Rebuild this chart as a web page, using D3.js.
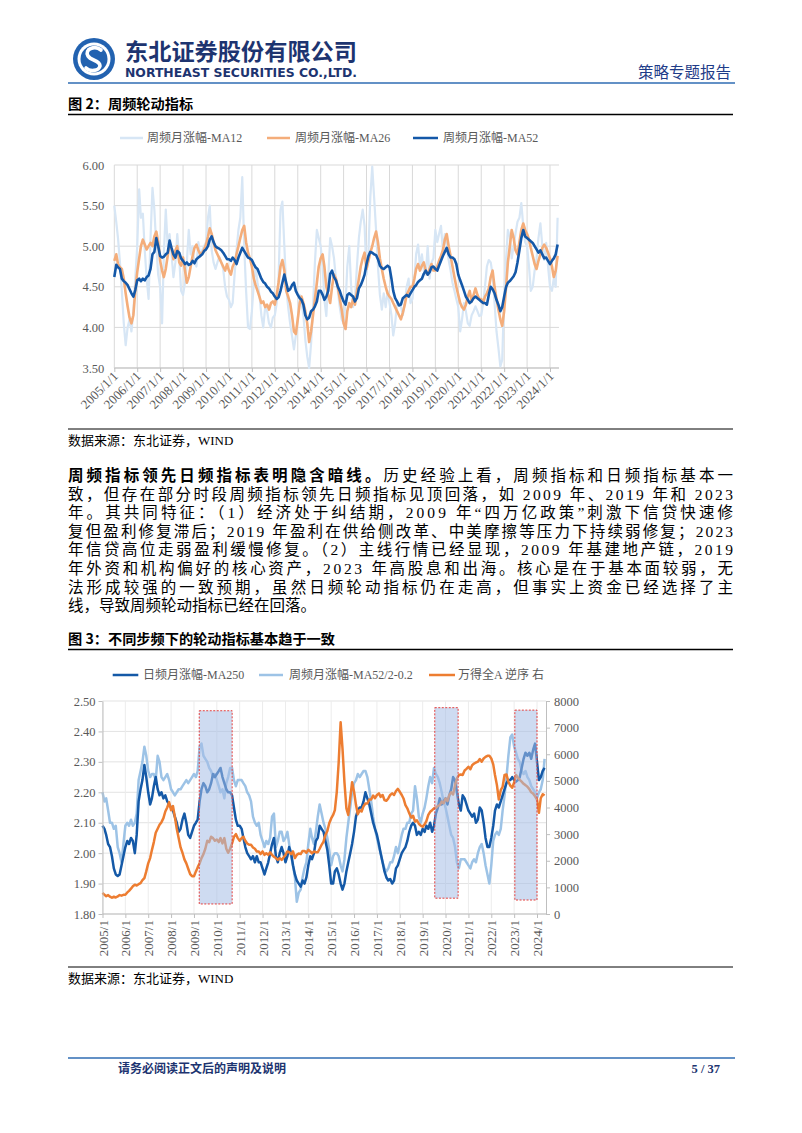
<!DOCTYPE html>
<html><head><meta charset="utf-8">
<script src="https://cdn.jsdelivr.net/npm/d3@7"></script>
<style>
body{margin:0;background:#fff;}
svg text{font-family:"Liberation Serif","Noto Sans CJK SC",serif;}
</style></head><body>
<svg id="page" width="802" height="1133" xmlns="http://www.w3.org/2000/svg"></svg>
<script>
// ---------------- DATA (monthly readings, Jan 2005 .. May 2024) ----------------
const tickYears = [2005,2006,2007,2008,2009,2010,2011,2012,2013,2014,2015,2016,2017,2018,2019,2020,2021,2022,2023,2024];
const y1Ticks = [3.5,4.0,4.5,5.0,5.5,6.0];
const yLTicks = [1.8,1.9,2.0,2.1,2.2,2.3,2.4,2.5];
const yRTicks = [0,1000,2000,3000,4000,5000,6000,7000,8000];

const ma12 = [
5.5,5.3,5.1,4.8,4.45,4.05,3.78,4.0,4.1,3.95,4.2,4.6,
5.0,5.7,5.35,5.4,4.95,4.6,4.35,5.1,5.72,5.45,5.0,4.65,
4.5,4.05,4.9,5.45,5.0,5.15,4.9,4.62,4.8,5.15,4.85,4.45,
4.4,4.55,4.8,5.2,4.9,5.0,4.8,4.75,5.05,4.87,4.95,5.0,
5.05,5.35,5.5,4.95,4.8,4.72,4.8,4.87,4.8,4.72,4.5,4.38,
4.34,4.25,4.3,4.65,4.95,5.2,5.35,5.85,5.0,4.45,4.0,3.98,
4.2,4.55,4.75,4.55,4.4,4.15,4.0,4.25,4.2,4.05,4.0,4.12,
4.15,4.3,4.6,5.45,5.55,5.0,4.5,4.25,4.05,3.9,3.73,3.9,
4.1,4.4,4.3,4.15,3.85,3.64,3.5,3.8,4.25,4.8,5.2,5.1,
5.0,4.75,4.34,4.14,4.6,5.1,5.0,4.85,4.6,4.45,4.25,4.1,
4.05,4.3,4.75,5.0,4.5,4.25,4.35,4.75,5.1,5.3,5.45,5.25,
4.65,4.95,5.6,5.98,5.6,5.2,4.75,4.4,4.22,4.42,4.25,4.45,
4.3,4.15,3.9,4.05,4.3,4.3,4.26,4.15,4.3,4.5,4.6,4.3,
4.35,4.6,4.9,5.02,4.75,4.9,4.7,4.65,5.0,4.6,4.8,4.85,
5.2,5.05,5.15,5.25,4.95,5.15,5.0,4.83,4.7,4.55,4.45,4.35,
4.25,3.95,4.1,4.3,4.2,4.05,4.02,4.15,4.2,4.26,4.2,4.14,
4.15,4.3,4.5,4.75,4.83,4.8,4.65,4.3,3.95,3.75,3.52,3.6,
4.4,4.85,5.2,5.12,4.85,5.0,5.16,5.3,5.35,5.53,5.25,5.05,
5.0,4.75,4.45,4.5,4.7,4.85,5.1,5.28,5.0,4.83,5.04,4.75,
4.5,4.45,4.6,4.5,5.35];

const ma26 = [
4.82,4.9,4.78,4.74,4.72,4.6,4.42,4.26,4.12,4.05,4.15,4.45,
4.68,4.85,5.0,5.08,5.02,4.96,5.0,5.04,5.0,5.12,5.18,5.05,
4.82,4.7,4.62,4.72,4.88,5.02,4.98,4.84,4.95,5.0,4.8,4.76,
4.86,4.7,4.55,4.62,4.75,4.88,4.98,5.02,4.95,4.9,4.92,4.96,
5.02,5.12,5.22,5.15,5.05,4.95,4.9,4.85,4.8,4.75,4.7,4.78,
4.7,4.65,4.75,4.8,4.9,5.0,5.1,5.2,5.25,5.05,4.92,4.85,
4.75,4.6,4.52,4.45,4.38,4.3,4.32,4.25,4.28,4.22,4.3,4.32,
4.28,4.4,4.55,4.75,4.83,4.7,4.45,4.38,4.3,4.15,3.95,3.92,
4.1,4.3,4.38,4.3,4.2,4.05,3.82,3.95,4.15,4.35,4.55,4.75,
4.85,4.9,4.75,4.5,4.4,4.3,4.5,4.65,4.6,4.5,4.35,4.22,
4.05,3.98,4.2,4.3,4.25,4.35,4.28,4.45,4.6,4.75,4.85,4.92,
4.72,4.82,4.92,5.0,5.1,5.18,5.05,4.85,4.72,4.6,4.5,4.42,
4.38,4.35,4.3,4.25,4.2,4.15,4.1,4.18,4.28,4.4,4.45,4.5,
4.5,4.6,4.72,4.78,4.7,4.76,4.8,4.7,4.65,4.72,4.78,4.7,
4.7,4.75,4.82,4.88,4.95,5.08,5.15,5.0,4.88,4.75,4.62,4.5,
4.4,4.3,4.25,4.22,4.28,4.38,4.45,4.32,4.4,4.48,4.4,4.35,
4.35,4.3,4.38,4.42,4.48,4.62,4.7,4.5,4.35,4.22,4.1,4.02,
4.2,4.5,4.8,5.0,5.2,5.1,4.95,4.9,5.05,5.2,5.28,5.2,
5.15,5.08,4.98,4.88,4.78,4.72,4.82,4.9,4.98,5.02,4.98,4.92,
4.85,4.75,4.62,4.7,4.88];

const ma52 = [
4.62,4.77,4.74,4.72,4.6,4.57,4.55,4.52,4.47,4.42,4.38,4.46,
4.58,4.6,4.57,4.6,4.58,4.62,4.64,4.72,4.9,4.93,5.1,5.0,
4.88,4.86,4.87,4.9,4.92,5.07,4.98,4.9,4.86,4.94,4.92,4.85,
4.82,4.78,4.8,4.77,4.78,4.82,4.79,4.84,4.86,4.88,4.9,4.94,
4.96,5.0,5.08,5.12,5.05,5.0,4.98,4.97,4.95,4.92,4.88,4.84,
4.84,4.82,4.86,4.83,4.78,4.86,4.92,4.98,4.94,4.9,4.86,4.85,
4.83,4.78,4.74,4.72,4.66,4.6,4.56,4.54,4.5,4.48,4.44,4.42,
4.38,4.35,4.37,4.45,4.55,4.65,4.55,4.45,4.47,4.52,4.55,4.45,
4.4,4.36,4.34,4.28,4.15,4.1,4.12,4.2,4.22,4.26,4.32,4.45,
4.45,4.4,4.34,4.38,4.45,4.66,4.7,4.62,4.58,4.5,4.45,4.38,
4.32,4.28,4.4,4.42,4.4,4.38,4.32,4.36,4.48,4.52,4.58,4.65,
4.78,4.88,4.93,4.92,4.9,4.89,4.84,4.76,4.73,4.72,4.74,4.76,
4.74,4.6,4.45,4.36,4.32,4.27,4.28,4.36,4.38,4.4,4.38,4.42,
4.46,4.5,4.52,4.56,4.58,4.6,4.66,4.7,4.65,4.68,4.74,4.75,
4.72,4.7,4.76,4.82,4.88,4.93,4.98,4.9,4.86,4.86,4.84,4.78,
4.65,4.58,4.52,4.45,4.38,4.34,4.3,4.32,4.36,4.38,4.36,4.34,
4.32,4.3,4.3,4.28,4.4,4.5,4.47,4.42,4.34,4.28,4.2,4.25,
4.38,4.5,4.55,4.57,4.6,4.63,4.68,4.8,4.95,5.1,5.2,5.12,
5.1,5.08,5.06,5.04,5.0,4.96,4.92,4.95,4.9,4.85,4.86,4.82,
4.78,4.82,4.85,4.9,5.02];

const dayMA250 = [
2.09,2.08,2.06,2.03,2.02,1.99,1.95,1.93,1.925,1.93,1.96,1.99,
2.02,2.04,2.03,2.05,2.04,2.0,2.06,2.17,2.21,2.24,2.29,2.25,
2.2,2.16,2.18,2.22,2.25,2.21,2.19,2.2,2.18,2.19,2.17,2.16,
2.15,2.14,2.12,2.1,2.07,2.08,2.11,2.13,2.1,2.06,2.05,2.07,
2.09,2.1,2.11,2.17,2.21,2.23,2.22,2.2,2.21,2.23,2.26,2.25,
2.26,2.27,2.28,2.25,2.23,2.21,2.2,2.2,2.19,2.15,2.11,2.09,
2.09,2.08,2.05,2.02,2.0,1.99,1.98,1.99,1.97,1.99,1.97,1.97,
1.95,1.93,1.95,1.97,2.0,2.03,2.05,1.99,1.97,2.0,2.02,2.0,
1.97,1.99,2.02,2.0,1.96,1.93,1.91,1.9,1.89,1.91,1.9,1.92,
1.96,1.99,1.98,2.0,2.04,2.05,2.09,2.08,2.07,2.04,2.01,1.96,
1.9,1.9,1.94,1.95,1.93,1.9,1.88,1.9,1.94,1.97,2.0,2.03,
2.07,2.12,2.14,2.15,2.15,2.17,2.2,2.18,2.16,2.13,2.1,2.08,
2.06,2.03,2.0,1.97,1.94,1.92,1.91,1.915,1.9,1.91,1.95,1.96,
1.98,2.0,2.01,2.02,2.04,2.07,2.09,2.1,2.09,2.06,2.07,2.06,
2.08,2.07,2.09,2.08,2.1,2.07,2.09,2.13,2.15,2.18,2.16,2.17,
2.18,2.16,2.19,2.21,2.25,2.24,2.2,2.16,2.14,2.19,2.18,2.16,
2.14,2.13,2.12,2.13,2.1,2.11,2.15,2.14,2.1,2.05,2.02,2.02,
2.05,2.09,2.14,2.16,2.15,2.17,2.19,2.21,2.23,2.24,2.24,2.25,
2.24,2.235,2.24,2.25,2.28,2.31,2.33,2.32,2.33,2.31,2.34,2.36,
2.3,2.24,2.25,2.27,2.28];

const weekMA52Scaled = [
2.2,2.17,2.18,2.14,2.1,2.1,2.08,2.09,2.02,2.0,1.97,2.03,
2.09,2.1,2.09,2.11,2.09,2.1,2.13,2.24,2.27,2.3,2.35,2.32,
2.27,2.25,2.26,2.26,2.24,2.32,2.3,2.25,2.24,2.25,2.26,2.24,
2.21,2.2,2.19,2.2,2.21,2.21,2.22,2.23,2.24,2.23,2.24,2.25,
2.26,2.25,2.27,2.35,2.36,2.32,2.31,2.3,2.28,2.27,2.25,2.26,
2.24,2.22,2.2,2.21,2.18,2.23,2.25,2.28,2.28,2.24,2.22,2.24,
2.24,2.24,2.23,2.22,2.2,2.19,2.17,2.12,2.1,2.09,2.1,2.06,
2.04,2.02,2.04,2.03,2.05,2.12,2.13,2.02,2.04,2.07,2.07,2.04,
2.05,2.07,2.03,1.99,1.96,1.92,1.84,1.87,1.88,1.92,1.95,1.97,
2.03,2.08,2.05,2.03,2.07,2.12,2.16,2.13,2.1,2.08,2.05,2.01,
1.96,1.99,2.0,2.0,1.99,1.96,1.94,1.98,2.05,2.1,2.15,2.2,
2.23,2.24,2.26,2.25,2.26,2.27,2.27,2.25,2.21,2.17,2.12,2.08,
2.05,2.02,2.0,1.97,1.95,1.94,1.95,1.97,1.97,1.99,2.02,2.0,
2.03,2.06,2.08,2.08,2.1,2.1,2.13,2.14,2.22,2.18,2.12,2.1,
2.13,2.15,2.18,2.22,2.25,2.23,2.28,2.26,2.25,2.23,2.2,2.17,
2.15,2.12,2.09,2.06,2.05,2.02,1.97,1.95,1.98,1.98,1.98,1.97,
1.96,1.95,1.97,1.98,1.97,2.0,2.02,2.03,2.0,1.96,1.93,1.9,
1.96,2.04,2.06,2.07,2.06,2.08,2.14,2.19,2.25,2.32,2.38,2.39,
2.35,2.33,2.31,2.3,2.27,2.26,2.27,2.25,2.24,2.22,2.21,2.2,
2.18,2.2,2.21,2.24,2.31];

const windAReverse = [
790,720,670,710,650,610,650,620,660,710,690,720,
720,810,870,950,1040,1100,1070,1120,1160,1270,1350,1600,
1900,2100,2400,2700,3050,3200,3350,3450,3600,3850,4000,4200,
3900,4050,3650,3200,2850,2500,2300,2050,1900,1700,1500,1420,
1420,1600,1750,1900,2100,2250,2450,2750,2700,2900,2850,2750,
2800,2700,2850,2650,2850,2450,2300,2450,2650,2900,3000,2850,
2750,2850,2900,2750,2650,2600,2600,2500,2450,2350,2350,2250,
2350,2220,2280,2220,2320,2220,2150,2100,2030,2100,2030,2120,
2220,2350,2320,2250,2350,2100,2220,2270,2250,2370,2370,2300,
2410,2350,2280,2350,2320,2320,2450,2600,2720,2970,3120,3410,
3590,3720,3900,4600,5700,7200,6200,4950,3970,3720,4340,4950,
4600,4100,3750,3900,3850,4050,4150,4150,4300,4300,4450,4350,
4470,4530,4400,4470,4280,4250,4340,4470,4530,4470,4620,4700,
4590,4470,4340,4090,3970,3780,3620,3690,3470,3520,3390,3320,
3280,3370,3490,3720,3840,3900,3970,3990,4060,4090,4220,4160,
4340,4240,4470,4570,4490,4840,5090,5220,5240,5220,5390,5450,
5530,5440,5590,5650,5690,5720,5820,5720,5840,5900,5940,5940,
5840,5620,5220,4840,4300,4650,4780,5220,5240,4970,4820,4740,
4940,5220,5120,5040,4970,4890,4840,4780,4690,4570,4520,4420,
4300,3800,4350,4500,4450];

// highlighted periods in figure 3 (start, end as decimal years; top/bottom in left-axis units)
const boxStart = [2009.23, 2019.53, 2023.03];
const boxEnd   = [2010.67, 2020.55, 2024.0];
const boxTop   = [2.468, 2.478, 2.47];
const boxBottom= [1.833, 1.852, 1.846];

const legend1 = ["周频月涨幅-MA12","周频月涨幅-MA26","周频月涨幅-MA52"];
const legend2 = ["日频月涨幅-MA250","周频月涨幅-MA52/2-0.2","万得全A 逆序 右"];

// ---------------- helpers ----------------
const monthDate = i => new Date(2005, i, 1);
const decDate = v => { const y = Math.floor(v); const s = new Date(y,0,1), e = new Date(y+1,0,1); return new Date(+s + (v-y)*(e-s)); };
const page = d3.select('#page');
const GRAY = '#595959';
const RM = 733; // right margin of text column

// ---------------- HEADER ----------------
const hdr = page.append('g');
hdr.append('circle').attr('cx',94).attr('cy',59).attr('r',21).attr('fill','#2262b0');
hdr.append('circle').attr('cx',94).attr('cy',59).attr('r',16.5).attr('fill','#fff');
hdr.append('circle').attr('cx',94).attr('cy',59).attr('r',13.5).attr('fill','#2262b0');
hdr.append('path').attr('d','M 101 50 C 95 45, 84 49, 88 56 C 91 61, 100 60, 100 66 C 99 71, 90 72, 86 68')
  .attr('fill','none').attr('stroke','#fff').attr('stroke-width',3.6).attr('stroke-linecap','round');
hdr.append('text').attr('x',125).attr('y',60).attr('font-size',23).attr('font-weight',700)
  .attr('fill','#1d3470').style('font-family','"Noto Sans CJK SC"').attr('textLength',232).attr('lengthAdjust','spacingAndGlyphs')
  .text('东北证券股份有限公司');
hdr.append('text').attr('x',125).attr('y',77).attr('font-size',12).attr('font-weight',700)
  .attr('fill','#1d3470').style('font-family','"DejaVu Sans"').attr('textLength',232).attr('lengthAdjust','spacingAndGlyphs')
  .text('NORTHEAST SECURITIES CO.,LTD.');
hdr.append('text').attr('x',731).attr('y',78).attr('font-size',15.5).attr('text-anchor','end')
  .attr('fill','#1f3c88').style('font-family','"Noto Sans CJK SC"').text('策略专题报告');
hdr.append('line').attr('x1',68).attr('x2',735).attr('y1',83).attr('y2',83).attr('stroke','#2f6cb3').attr('stroke-width',1.5);

// ---------------- FIGURE TITLES / SOURCES ----------------
function figTitle(y, txt){
  page.append('text').attr('x',68).attr('y',y).attr('font-size',14.2).attr('font-weight',700).attr('fill','#000')
    .style('font-family','"Noto Sans CJK SC"').text(txt);
  page.append('line').attr('x1',68).attr('x2',RM).attr('y1',y+5.5).attr('y2',y+5.5).attr('stroke','#000').attr('stroke-width',1.3);
}
function source(y){
  page.append('line').attr('x1',68).attr('x2',RM).attr('y1',y).attr('y2',y).attr('stroke','#000').attr('stroke-width',1);
  page.append('text').attr('x',68).attr('y',y+15.5).attr('font-size',13).attr('fill','#000').text('数据来源：东北证券，WIND');
}
figTitle(109,'图 2：周频轮动指标');
figTitle(644,'图 3：不同步频下的轮动指标基本趋于一致');
source(429);
source(967);

function legend(items, y){
  items.forEach(it=>{
    page.append('line').attr('x1',it.x1).attr('x2',it.x2).attr('y1',y).attr('y2',y).attr('stroke',it.color).attr('stroke-width',2.5);
    page.append('text').attr('x',it.tx).attr('y',y+4.2).attr('font-size',12).attr('fill',GRAY).text(it.label);
  });
}

// ---------------- CHART 1 ----------------
const x1 = d3.scaleTime().domain([new Date(2005,0,1), new Date(2024,0,1)]).range([114.3, 550]);
const y1 = d3.scaleLinear().domain([3.5,6]).range([368,165]);
const c1R = 559;
const g1 = page.append('g');
g1.selectAll('line.hg').data(y1Ticks).join('line').attr('class','hg')
  .attr('x1',114.3).attr('x2',c1R).attr('y1',d=>y1(d)).attr('y2',d=>y1(d)).attr('stroke','#d9d9d9').attr('stroke-width',1);
g1.selectAll('line.vg').data(tickYears).join('line').attr('class','vg')
  .attr('x1',d=>x1(new Date(d,0,1))).attr('x2',d=>x1(new Date(d,0,1))).attr('y1',165).attr('y2',368).attr('stroke','#d9d9d9').attr('stroke-width',1);

const ax1 = g1.append('g').attr('transform','translate(0,368)')
  .call(d3.axisBottom(x1).tickValues(tickYears.map(y=>new Date(y,0,1))).tickFormat(d3.timeFormat('%Y/%-m/%-d')).tickSize(4).tickSizeOuter(0));
ax1.select('.domain').remove();
ax1.selectAll('.tick line').attr('stroke','#bfbfbf');
ax1.selectAll('.tick text').attr('x',0).attr('y',0).attr('dy',0).attr('transform','translate(4,9) rotate(-45)')
  .attr('text-anchor','end').attr('font-size',13).attr('fill',GRAY).style('font-family','"Liberation Serif"');
g1.append('line').attr('x1',114.3).attr('x2',c1R).attr('y1',368).attr('y2',368).attr('stroke','#bfbfbf');

const ay1 = g1.append('g').attr('transform','translate(114.3,0)')
  .call(d3.axisLeft(y1).tickValues(y1Ticks).tickFormat(d3.format('.2f')).tickSize(0).tickPadding(10));
ay1.select('.domain').remove();
ay1.selectAll('text').attr('font-size',12.5).attr('fill',GRAY).style('font-family','"Liberation Serif"');

const line1 = d3.line().x((d,i)=>x1(monthDate(i))).y(d=>y1(d));
const s1 = [
  {data:ma12, color:'#d7e6f5', w:2.2},
  {data:ma26, color:'#f4ad7a', w:2.6},
  {data:ma52, color:'#1458a8', w:2.6}
];
s1.forEach(s=>g1.append('path').datum(s.data).attr('d',line1).attr('fill','none').attr('stroke',s.color).attr('stroke-width',s.w).attr('stroke-linejoin','round'));

legend([
  {x1:120,x2:143,tx:147,color:'#d7e6f5',label:legend1[0]},
  {x1:267,x2:290,tx:295,color:'#f4ad7a',label:legend1[1]},
  {x1:413,x2:438,tx:443,color:'#1458a8',label:legend1[2]}
],138);

// ---------------- PARAGRAPH ----------------
const para = [
 [["周频指标领先日频指标表明隐含暗线。",1],["历史经验上看，周频指标和日频指标基本一",0]],
 [["致，但存在部分时段周频指标领先日频指标见顶回落，如 2009 年、2019 年和 2023",0]],
 [["年。其共同特征：（1）经济处于纠结期，2009 年“四万亿政策”刺激下信贷快速修",0]],
 [["复但盈利修复滞后；2019 年盈利在供给侧改革、中美摩擦等压力下持续弱修复；2023",0]],
 [["年信贷高位走弱盈利缓慢修复。（2）主线行情已经显现，2009 年基建地产链，2019",0]],
 [["年外资和机构偏好的核心资产，2023 年高股息和出海。核心是在于基本面较弱，无",0]],
 [["法形成较强的一致预期，虽然日频轮动指标仍在走高，但事实上资金已经选择了主",0]],
 [["线，导致周频轮动指标已经在回落。",0]]
];
para.forEach((ln,i)=>{
  const t = page.append('text').attr('x',68).attr('y',481+i*18.6).attr('font-size',15.5).attr('fill','#000');
  if(i<para.length-1) t.attr('textLength',RM-68).attr('lengthAdjust','spacing');
  ln.forEach(seg=>t.append('tspan').attr('font-weight',seg[1]?700:400).text(seg[0]));
});

// ---------------- CHART 2 ----------------
const x2 = d3.scaleTime().domain([new Date(2005,0,1), new Date(2024,0,1)]).range([102.5, 537]);
const yL = d3.scaleLinear().domain([1.8,2.5]).range([914,701]);
const yR = d3.scaleLinear().domain([0,8000]).range([914,701]);
const c2L = 102.5, c2R = 546;
const g2 = page.append('g');
g2.selectAll('line.hg').data(yLTicks).join('line').attr('class','hg')
  .attr('x1',c2L).attr('x2',c2R).attr('y1',d=>yL(d)).attr('y2',d=>yL(d)).attr('stroke','#e3e3e3');
g2.selectAll('line.vg').data(tickYears).join('line').attr('class','vg')
  .attr('x1',d=>x2(new Date(d,0,1))).attr('x2',d=>x2(new Date(d,0,1))).attr('y1',701).attr('y2',914).attr('stroke','#ececec');

const line2L = d3.line().x((d,i)=>x2(monthDate(i))).y(d=>yL(d));
const line2R = d3.line().x((d,i)=>x2(monthDate(i))).y(d=>yR(d));
g2.append('path').datum(weekMA52Scaled).attr('d',line2L).attr('fill','none').attr('stroke','#9dc3e6').attr('stroke-width',2.5).attr('stroke-linejoin','round');
g2.append('path').datum(dayMA250).attr('d',line2L).attr('fill','none').attr('stroke','#1459a7').attr('stroke-width',2.5).attr('stroke-linejoin','round');
g2.append('path').datum(windAReverse).attr('d',line2R).attr('fill','none').attr('stroke','#ed7d31').attr('stroke-width',2.5).attr('stroke-linejoin','round');

g2.selectAll('rect.box').data(boxStart.map((s,i)=>({s, e:boxEnd[i], t:boxTop[i], b:boxBottom[i]}))).join('rect').attr('class','box')
  .attr('x',d=>x2(decDate(d.s))).attr('width',d=>x2(decDate(d.e))-x2(decDate(d.s)))
  .attr('y',d=>yL(d.t)).attr('height',d=>yL(d.b)-yL(d.t))
  .attr('fill','rgba(165,190,230,0.55)').attr('stroke','#e4403f').attr('stroke-width',1).attr('stroke-dasharray','2,1.5');

const axL = g2.append('g').attr('transform',`translate(${c2L},0)`)
  .call(d3.axisLeft(yL).tickValues(yLTicks).tickFormat(d3.format('.2f')).tickSize(4).tickPadding(3).tickSizeOuter(0));
axL.select('.domain').attr('stroke','#bfbfbf');
axL.selectAll('.tick line').attr('stroke','#bfbfbf');
axL.selectAll('text').attr('font-size',12.5).attr('fill',GRAY).style('font-family','"Liberation Serif"');

const axR = g2.append('g').attr('transform',`translate(${c2R},0)`)
  .call(d3.axisRight(yR).tickValues(yRTicks).tickFormat(d3.format('d')).tickSize(4).tickPadding(4).tickSizeOuter(0));
axR.select('.domain').attr('stroke','#bfbfbf');
axR.selectAll('.tick line').attr('stroke','#bfbfbf');
axR.selectAll('text').attr('font-size',12.5).attr('fill',GRAY).style('font-family','"Liberation Serif"');

const axB = g2.append('g').attr('transform','translate(0,914)')
  .call(d3.axisBottom(x2).tickValues(tickYears.map(y=>new Date(y,0,1))).tickFormat(d3.timeFormat('%Y/%-m')).tickSize(4).tickSizeOuter(0));
axB.select('.domain').remove();
axB.selectAll('.tick line').attr('stroke','#bfbfbf');
axB.selectAll('.tick text').attr('x',0).attr('y',0).attr('dy',0).attr('transform','translate(4.5,6) rotate(-90)')
  .attr('text-anchor','end').attr('font-size',13).attr('fill',GRAY).style('font-family','"Liberation Serif"');
g2.append('line').attr('x1',c2L).attr('x2',c2R).attr('y1',914).attr('y2',914).attr('stroke','#bfbfbf');

legend([
  {x1:112.7,x2:138.3,tx:143,color:'#1459a7',label:legend2[0]},
  {x1:259,x2:283,tx:289,color:'#9dc3e6',label:legend2[1]},
  {x1:429,x2:455,tx:458,color:'#ed7d31',label:legend2[2]}
],675);

// ---------------- FOOTER ----------------
page.append('line').attr('x1',68).attr('x2',735).attr('y1',1058).attr('y2',1058).attr('stroke','#2f6cb3').attr('stroke-width',1.5);
page.append('text').attr('x',118).attr('y',1073).attr('font-size',12).attr('font-weight',700).attr('fill','#1d3470')
  .style('font-family','"Noto Sans CJK SC"').text('请务必阅读正文后的声明及说明');
page.append('text').attr('x',720).attr('y',1073).attr('font-size',12.5).attr('font-weight',700).attr('text-anchor','end').attr('fill','#1d3470')
  .text('5 / 37');
</script>
</body></html>
